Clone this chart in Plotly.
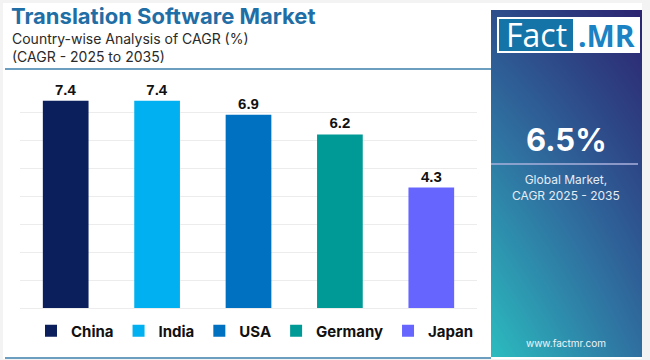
import plotly.graph_objects as go

countries = ["China", "India", "USA", "Germany", "Japan"]
cagr = [7.4, 7.4, 6.9, 6.2, 4.3]
colors = ["#0b1f5c", "#00b0f0", "#0070c0", "#009a96", "#6666ff"]

title = "Translation Software Market"
subtitle1 = "Country-wise Analysis of CAGR (%)"
subtitle2 = "(CAGR - 2025 to 2035)"
global_cagr = "6.5%"
global_label = "Global Market,<br>CAGR 2025 - 2035"
website = "www.factmr.com"

# panel gradient corner values (bottom row, top row)
grad_z = [[0.0, 0.5], [0.72, 1.0]]

W, H = 650, 360

def px(x):
    return x / W

def py(y):
    return 1 - y / H

fig = go.Figure()

for c, v, col in zip(countries, cagr, colors):
    fig.add_trace(go.Bar(
        x=[c], y=[v], name=c, marker=dict(color=col, line=dict(width=0)),
        width=0.5, text=[f"<b>{v:.1f}</b>"], textposition="outside",
        textfont=dict(family="Liberation Sans, Arial", size=15, color="#111111"),
        cliponaxis=False, showlegend=True,
    ))

# gradient side panel
fig.add_trace(go.Heatmap(
    z=grad_z, x=[0, 1], y=[0, 1], xaxis="x2", yaxis="y2",
    zsmooth="best", showscale=False, hoverinfo="skip",
    colorscale=[[0, "#2bbcbf"], [0.5, "#2f6fa0"], [1, "#2c2470"]],
    zmin=0, zmax=1,
))

fig.update_layout(
    width=W, height=H,
    margin=dict(l=0, r=0, t=0, b=0),
    paper_bgcolor="#f3f3f3",
    plot_bgcolor="white",
    barmode="overlay",
    bargap=0.5,
    xaxis=dict(domain=[px(20), px(477)], showticklabels=False, showgrid=False,
               zeroline=False, showline=False, ticks=""),
    yaxis=dict(domain=[py(308), py(84)], range=[0, 8], dtick=1,
               showticklabels=False, showgrid=True, gridcolor="#ececec",
               gridwidth=1, zeroline=True, zerolinecolor="#ececec",
               zerolinewidth=1, ticks=""),
    xaxis2=dict(domain=[px(491), px(642)], range=[0, 1], visible=False,
                anchor="y2", fixedrange=True),
    yaxis2=dict(domain=[py(357), py(10)], range=[0, 1], visible=False,
                anchor="x2", fixedrange=True),
    legend=dict(orientation="h", x=px(31), xanchor="left", y=py(331),
                yanchor="middle", bgcolor="rgba(0,0,0,0)",
                font=dict(family="Inter, Lato, sans-serif", size=15,
                          color="#111111", weight="bold"),
                itemwidth=30, tracegroupgap=0, itemclick=False),
    showlegend=True,
)

shapes = []
# white card
shapes.append(dict(type="rect", xref="paper", yref="paper", layer="below",
                   x0=px(3), x1=px(642), y0=py(359), y1=py(3),
                   fillcolor="white", line=dict(width=0)))
# separator lines
shapes.append(dict(type="line", xref="paper", yref="paper",
                   x0=px(5), x1=px(491), y0=py(69), y1=py(69),
                   line=dict(color="#3b7eaa", width=1.5)))
shapes.append(dict(type="line", xref="paper", yref="paper",
                   x0=px(5), x1=px(491), y0=py(358), y1=py(358),
                   line=dict(color="#3b7eaa", width=1.5)))
# logo
shapes.append(dict(type="rect", xref="paper", yref="paper",
                   x0=px(497), x1=px(640), y0=py(53), y1=py(17),
                   fillcolor="white", line=dict(width=0)))
shapes.append(dict(type="rect", xref="paper", yref="paper",
                   x0=px(499), x1=px(573), y0=py(51), y1=py(19),
                   fillcolor="#1474a8", line=dict(width=0)))
# panel divider
shapes.append(dict(type="line", xref="paper", yref="paper",
                   x0=px(491), x1=px(638), y0=py(164), y1=py(164),
                   line=dict(color="#aab0dc", width=1.5)))
fig.update_layout(shapes=shapes)

ann = []
ann.append(dict(text=f"<b>{title}</b>", xref="paper", yref="paper",
                x=px(10), y=py(16), xanchor="left", yanchor="middle",
                showarrow=False, borderpad=0,
                font=dict(family="Inter, sans-serif", size=22, color="#1f6ea5")))
ann.append(dict(text=f"{subtitle1}<br>{subtitle2}", xref="paper", yref="paper",
                x=px(11), y=py(48), xanchor="left", yanchor="middle",
                showarrow=False, align="left", borderpad=0,
                font=dict(family="Inter, sans-serif", size=14, color="#2a2a2a")))
ann.append(dict(text="Fact", xref="paper", yref="paper",
                x=px(536), y=py(35), xanchor="center", yanchor="middle",
                showarrow=False,
                font=dict(family="Open Sans, sans-serif", size=32, color="white")))
ann.append(dict(text="<b>.MR</b>", xref="paper", yref="paper",
                x=px(606), y=py(36), xanchor="center", yanchor="middle",
                showarrow=False,
                font=dict(family="Open Sans, sans-serif", size=30, color="#1b82c4")))
ann.append(dict(text=f"<b>{global_cagr}</b>", xref="paper", yref="paper",
                x=px(566), y=py(139), xanchor="center", yanchor="middle",
                showarrow=False,
                font=dict(family="Inter, sans-serif", size=31, color="white")))
ann.append(dict(text=global_label, xref="paper", yref="paper",
                x=px(566), y=py(187), xanchor="center", yanchor="middle",
                showarrow=False,
                font=dict(family="Inter, sans-serif", size=12, color="#e6ecf5")))
ann.append(dict(text=website, xref="paper", yref="paper",
                x=px(566), y=py(343), xanchor="center", yanchor="middle",
                showarrow=False,
                font=dict(family="Inter, sans-serif", size=10, color="#eef4f8")))
fig.update_layout(annotations=ann)

fig.write_html("out.html", config={"displayModeBar": False},
               post_script="document.body.style.margin='0';")
